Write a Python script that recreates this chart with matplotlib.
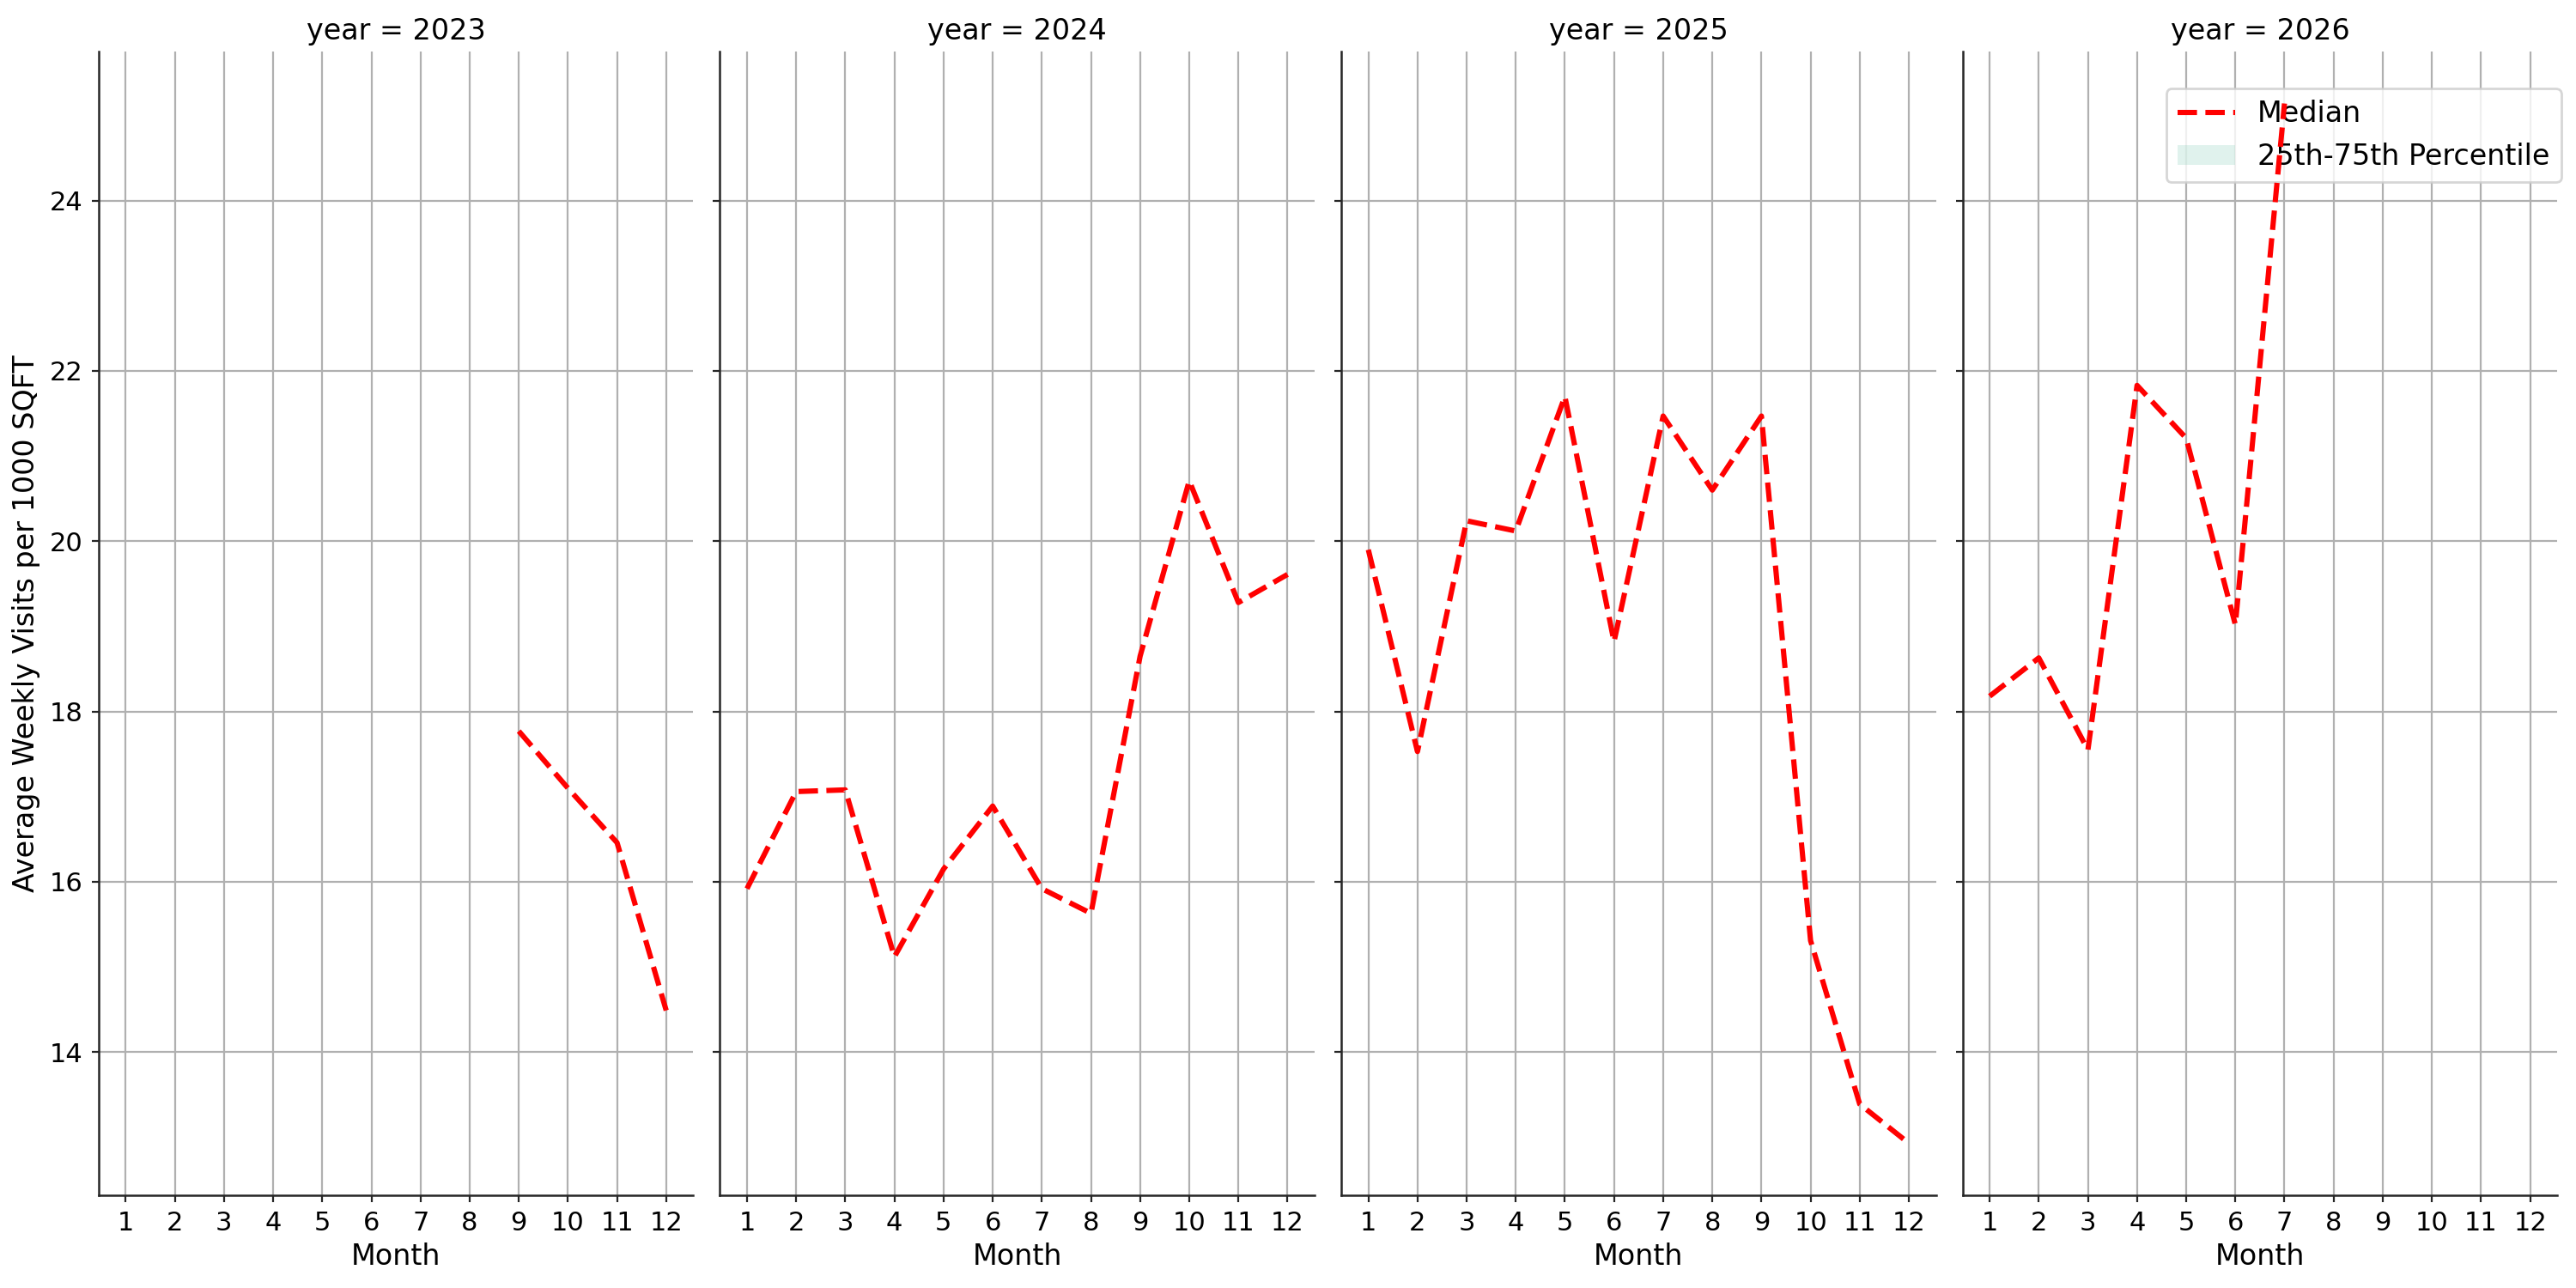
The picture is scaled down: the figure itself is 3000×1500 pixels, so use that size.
import matplotlib
matplotlib.use("Agg")
import matplotlib.pyplot as plt

years = [2023, 2024, 2025, 2026]

months_2023 = [9, 10, 11, 12]
median_2023 = [17.77, 17.10, 16.46, 14.49]

months_2024 = [1, 2, 3, 4, 5, 6, 7, 8, 9, 10, 11, 12]
median_2024 = [15.92, 17.06, 17.08, 15.12, 16.15, 16.89, 15.92, 15.63, 18.65, 20.71, 19.28, 19.61]

months_2025 = [1, 2, 3, 4, 5, 6, 7, 8, 9, 10, 11, 12]
median_2025 = [19.90, 17.53, 20.24, 20.12, 21.70, 18.82, 21.47, 20.60, 21.47, 15.31, 13.39, 12.93]

months_2026 = [1, 2, 3, 4, 5, 6, 7]
median_2026 = [18.18, 18.63, 17.55, 21.83, 21.21, 19.02, 25.14]

months_all = [1, 2, 3, 4, 5, 6, 7, 8, 9, 10, 11, 12]

data = {
    2023: (months_2023, median_2023),
    2024: (months_2024, median_2024),
    2025: (months_2025, median_2025),
    2026: (months_2026, median_2026),
}

fs = 12
fig, axes = plt.subplots(1, 4, figsize=(15, 7.5), dpi=200, sharex=True, sharey=True)
fig.subplots_adjust(left=0.0383, right=0.9927, top=0.96, bottom=0.072, wspace=0.045)

for ax, yr in zip(axes, years):
    m, med = data[yr]
    ax.plot(m, med, color="red", linestyle="--", linewidth=2.2, label="Median", zorder=3)
    # only one value per month, so the 25th-75th band collapses onto the median
    ax.fill_between(m, med, med, color="#66c2a5", alpha=0.2, linewidth=0,
                    label="25th-75th Percentile")
    ax.set_title("year = %d" % yr, fontsize=fs, pad=5)
    ax.set_xlabel("Month", fontsize=fs, labelpad=3)
    ax.set_xticks(months_all)
    ax.grid(True, color="#b0b0b0", linewidth=0.8)
    ax.set_axisbelow(True)
    ax.tick_params(labelsize=11, length=3, color="0.15")
    for s in ["top", "right"]:
        ax.spines[s].set_visible(False)
    for s in ["left", "bottom"]:
        ax.spines[s].set_color("0.15")
        ax.spines[s].set_linewidth(0.9)

axes[0].set_ylabel("Average Weekly Visits per 1000 SQFT", fontsize=fs)
leg = axes[-1].legend(loc="upper right", bbox_to_anchor=(1.007, 0.9677), borderaxespad=0,
                      fontsize=fs)
leg.set_zorder(2)  # median line runs over the legend box like in the original

fig.savefig("out.png", dpi=200)
